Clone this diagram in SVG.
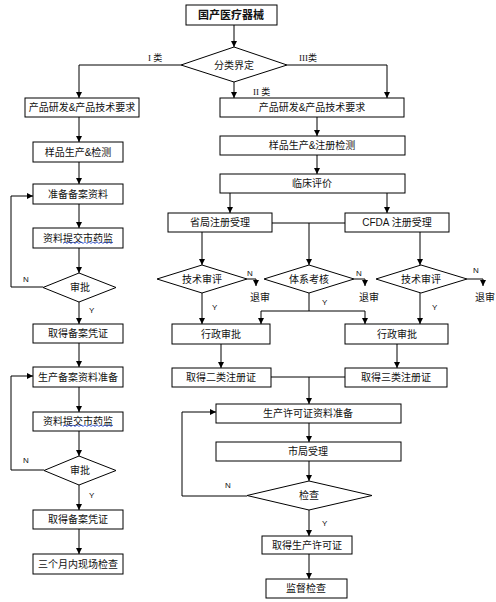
<svg xmlns="http://www.w3.org/2000/svg" width="496" height="602" viewBox="0 0 496 602">
<style>
.b{fill:#fff;stroke:#000;stroke-width:1}
.t{font-family:"Liberation Sans","Noto Sans CJK SC",sans-serif;font-size:10px;fill:#111;text-anchor:middle;dominant-baseline:central}
.l{font-family:"Liberation Sans","Noto Sans CJK SC",sans-serif;font-size:8px;fill:#111;dominant-baseline:central}
.r{font-family:"Liberation Serif","Noto Sans CJK SC",serif;font-size:9px;fill:#111;dominant-baseline:central}
.c{fill:none;stroke:#000;stroke-width:1}
.a{marker-end:url(#ah)}
.w{fill:none;stroke:#3355dd;stroke-width:0.8}
</style>
<defs>
<marker id="ah" markerWidth="6" markerHeight="6" refX="6" refY="3" orient="auto" markerUnits="userSpaceOnUse">
<path d="M0,0 L6,3 L0,6 z" fill="#000"/>
</marker>
</defs>
<g id="connectors">
<path class="c a" d="M234,25 V47"/>
<path class="c a" d="M181,65 H79 V98"/>
<path class="c a" d="M287,65 H387 V98"/>
<path class="c a" d="M234,82 V98"/>
<path class="c a" d="M79,117 V142"/>
<path class="c a" d="M79,162 V184"/>
<path class="c a" d="M79,204 V228"/>
<path class="c a" d="M79,248 V273"/>
<path class="c a" d="M79,302 V324"/>
<path class="c a" d="M43,287 H11 V196 H33"/>
<path class="c a" d="M79,343 V367"/>
<path class="c a" d="M79,387 V412"/>
<path class="c a" d="M79,431 V456"/>
<path class="c a" d="M79,485 V510"/>
<path class="c a" d="M79,529 V554"/>
<path class="c a" d="M44,470 H11 V376 H33"/>
<path class="c a" d="M317,117 V136"/>
<path class="c a" d="M317,155 V174"/>
<path class="c a" d="M230,193 V213"/>
<path class="c a" d="M387,193 V213"/>
<path class="c" d="M272,223 H345"/>
<path class="c a" d="M309,223 V265"/>
<path class="c a" d="M202,232 V265"/>
<path class="c a" d="M420,232 V265"/>
<path class="c a" d="M247,279 H256 V286"/>
<path class="c a" d="M354,279 H365 V286"/>
<path class="c a" d="M467,279 H483 V286"/>
<path class="c a" d="M202,293 V324"/>
<path class="c" d="M309,293 V311 M261,311 H365"/>
<path class="c a" d="M261,311 V324"/>
<path class="c a" d="M365,311 V324"/>
<path class="c a" d="M420,293 V324"/>
<path class="c a" d="M221,344 V368"/>
<path class="c a" d="M397,344 V368"/>
<path class="c" d="M271,377 H345"/>
<path class="c a" d="M309,377 V404"/>
<path class="c a" d="M309,423 V442"/>
<path class="c a" d="M309,461 V481"/>
<path class="c a" d="M247,496 H182 V412 H216"/>
<path class="c a" d="M309,510 V536"/>
<path class="c a" d="M309,554 V579"/>
</g>
<g id="n_top"><rect class="b" x="186" y="5" width="91" height="20"/><text class="t" x="231" y="15" style="font-weight:bold;font-size:11px">国产医疗器械</text></g>
<g id="n_classify"><polygon class="b" points="234,47 287,65 234,82 181,65"/><text class="t" x="234" y="65">分类界定</text></g>
<g id="lbl_class"><text class="r" x="148" y="58">I 类</text><text class="r" x="299" y="58">III类</text><text class="r" x="253" y="92">II 类</text></g>
<g id="n_l1"><rect class="b" x="25" y="98" width="114" height="19"/><text class="t" x="82" y="107.5">产品研发&amp;产品技术要求</text></g>
<g id="n_l2"><rect class="b" x="33" y="142" width="90" height="20"/><text class="t" x="78" y="152">样品生产&amp;检测</text></g>
<g id="n_l3"><rect class="b" x="33" y="184" width="90" height="20"/><text class="t" x="78" y="194">准备备案资料</text></g>
<g id="n_l4"><rect class="b" x="33" y="228" width="90" height="20"/><text class="t" x="78" y="238">资料提交市药监</text><path class="w" d="M63,243.5 l2,-1.5 l2,1.5 l2,-1.5 l2,1.5 l2,-1.5 l2,1.5 l2,-1.5 l2,1.5 l2,-1.5 l2,1.5 l2,-1.5 l2,1.5 l2,-1.5 l2,1.5 l2,-1.5 l2,1.5 l2,-1.5 l2,1.5 l2,-1.5 l2,1.5 l2,-1.5 l2,1.5 l2,-1.5 l2,1.5 l2,-1.5"/></g>
<g id="n_l5"><polygon class="b" points="79,273 116,287.5 79,302 43,287.5"/><text class="t" x="80" y="287.5">审批</text></g>
<g id="lbl_l5"><text class="l" x="23" y="279">N</text><text class="l" x="89" y="310">Y</text></g>
<g id="n_l6"><rect class="b" x="33" y="324" width="90" height="19"/><text class="t" x="78" y="333.5">取得备案凭证</text></g>
<g id="n_l7"><rect class="b" x="33" y="367" width="90" height="20"/><text class="t" x="78" y="377">生产备案资料准备</text></g>
<g id="n_l8"><rect class="b" x="33" y="412" width="90" height="19"/><text class="t" x="78" y="421.5">资料提交市药监</text><path class="w" d="M63,426.5 l2,-1.5 l2,1.5 l2,-1.5 l2,1.5 l2,-1.5 l2,1.5 l2,-1.5 l2,1.5 l2,-1.5 l2,1.5 l2,-1.5 l2,1.5 l2,-1.5 l2,1.5 l2,-1.5 l2,1.5 l2,-1.5 l2,1.5 l2,-1.5 l2,1.5 l2,-1.5 l2,1.5 l2,-1.5 l2,1.5 l2,-1.5"/></g>
<g id="n_l9"><polygon class="b" points="79,456 116,470.5 79,485 44,470.5"/><text class="t" x="80" y="470.5">审批</text></g>
<g id="lbl_l9"><text class="l" x="23" y="460">N</text><text class="l" x="89" y="495">Y</text></g>
<g id="n_l10"><rect class="b" x="33" y="510" width="90" height="19"/><text class="t" x="78" y="519.5">取得备案凭证</text></g>
<g id="n_l11"><rect class="b" x="33" y="554" width="90" height="20"/><text class="t" x="78" y="564">三个月内现场检查</text></g>
<g id="n_r1"><rect class="b" x="220" y="98" width="184" height="19"/><text class="t" x="312" y="107.5">产品研发&amp;产品技术要求</text></g>
<g id="n_r2"><rect class="b" x="220" y="136" width="185" height="19"/><text class="t" x="312" y="145.5">样品生产&amp;注册检测</text></g>
<g id="n_r3"><rect class="b" x="220" y="174" width="185" height="19"/><text class="t" x="312" y="183.5">临床评价</text></g>
<g id="n_prov"><rect class="b" x="168" y="213" width="104" height="19"/><text class="t" x="220" y="222.5">省局注册受理</text></g>
<g id="n_cfda"><rect class="b" x="345" y="213" width="104" height="19"/><text class="t" x="397" y="222.5">CFDA 注册受理</text></g>
<g id="n_tech1"><polygon class="b" points="202,265 247,279 202,293 157,279"/><text class="t" x="202" y="279">技术审评</text></g>
<g id="n_sys"><polygon class="b" points="309,265 354,279 309,293 264,279"/><text class="t" x="309" y="279">体系考核</text></g>
<g id="n_tech2"><polygon class="b" points="421,265 467,279 421,293 376,279"/><text class="t" x="421" y="279">技术审评</text></g>
<g id="lbl_review"><text class="l" x="247" y="273">N</text><text class="t" x="260" y="297" style="text-anchor:start" dx="-10">退审</text><text class="l" x="356" y="273">N</text><text class="t" x="359" y="297" style="text-anchor:start">退审</text><text class="l" x="473" y="270">N</text><text class="t" x="475" y="297" style="text-anchor:start">退审</text><text class="l" x="212" y="307">Y</text><text class="l" x="322" y="302">Y</text><text class="l" x="432" y="307">Y</text></g>
<g id="n_adm1"><rect class="b" x="172" y="324" width="98" height="20"/><text class="t" x="221" y="334">行政审批</text></g>
<g id="n_adm2"><rect class="b" x="345" y="324" width="103" height="20"/><text class="t" x="397" y="334">行政审批</text></g>
<g id="n_cert2"><rect class="b" x="172" y="368" width="99" height="19"/><text class="t" x="221" y="377.5">取得二类注册证</text></g>
<g id="n_cert3"><rect class="b" x="345" y="368" width="102" height="19"/><text class="t" x="396" y="377.5">取得三类注册证</text></g>
<g id="n_prep"><rect class="b" x="216" y="404" width="185" height="19"/><text class="t" x="308" y="413.5">生产许可证资料准备</text></g>
<g id="n_city"><rect class="b" x="216" y="442" width="185" height="19"/><text class="t" x="308" y="451.5">市局受理</text></g>
<g id="n_check"><polygon class="b" points="309,481 372,495.5 309,510 247,495.5"/><text class="t" x="309" y="495.5">检查</text></g>
<g id="lbl_check"><text class="l" x="225" y="485">N</text><text class="l" x="322" y="523">Y</text></g>
<g id="n_license"><rect class="b" x="262" y="536" width="90" height="18"/><text class="t" x="307" y="545">取得生产许可证</text></g>
<g id="n_super"><rect class="b" x="266" y="579" width="81" height="19"/><text class="t" x="306" y="588.5">监督检查</text></g>
</svg>
